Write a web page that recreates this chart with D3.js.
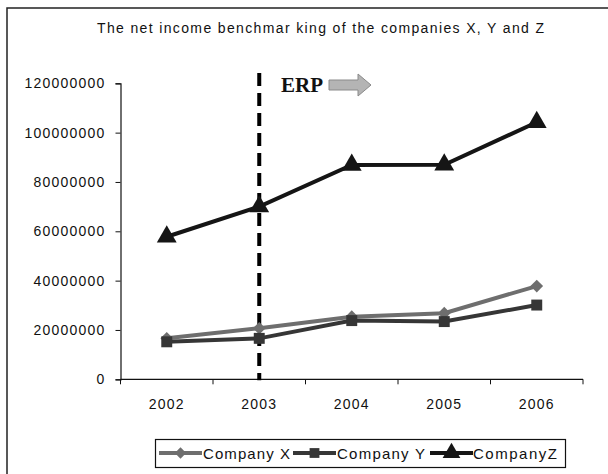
<!DOCTYPE html>
<html><head><meta charset="utf-8">
<script src="https://cdn.jsdelivr.net/npm/d3@7"></script>
<style>body{margin:0;background:#fff}svg{display:block}</style>
</head><body>
<script>
const years = ["2002","2003","2004","2005","2006"];
const seriesNames = ["Company X","Company Y","CompanyZ"];
const companyX = [16600000, 20700000, 25400000, 26800000, 37800000];
const companyY = [15200000, 16600000, 23800000, 23400000, 30100000];
const companyZ = [57800000, 70000000, 86900000, 87000000, 104200000];
const yTicks = [0,20000000,40000000,60000000,80000000,100000000,120000000];
const titleText = "The net income benchmar king of the companies X, Y and Z";
const erpYear = "2003";

const SANS="Liberation Sans, Arial, sans-serif";
const W=608,H=474;
const svg=d3.select("body").append("svg").attr("width",W).attr("height",H).style("font-family",SANS);
svg.append("rect").attr("x",7).attr("y",8).attr("width",620).attr("height",500).attr("fill","none").attr("stroke","#222").attr("stroke-width",1.5);

svg.append("text").attr("x",97).attr("y",33).attr("font-size",14).attr("fill","#111")
  .attr("textLength",447).attr("lengthAdjust","spacing").text(titleText);

const x=d3.scaleBand().domain(years).range([120.5,583]).padding(0);
const y=d3.scaleLinear().domain([0,120000000]).range([379.3,83.3]);

const ya=svg.append("g").attr("transform","translate(120.5,0)")
  .call(d3.axisLeft(y).tickValues(yTicks).tickFormat(d3.format("d")).tickSize(5).tickPadding(10));
ya.select(".domain").attr("stroke","#111").attr("stroke-width",1.2);
ya.selectAll(".tick line").attr("stroke","#111");
ya.selectAll("text").attr("font-size",14).attr("letter-spacing","1.2px").attr("fill","#111").attr("font-family",SANS);

const bounds=years.map(d=>x(d)).concat([x.range()[1]]);
const xg=svg.append("g");
xg.append("line").attr("x1",x.range()[0]).attr("x2",x.range()[1]).attr("y1",y(0)).attr("y2",y(0)).attr("stroke","#111").attr("stroke-width",1.2);
xg.selectAll("line.tk").data(bounds).join("line").attr("class","tk")
  .attr("x1",d=>d).attr("x2",d=>d).attr("y1",y(0)).attr("y2",y(0)+5).attr("stroke","#111");
xg.selectAll("text").data(years).join("text")
  .attr("x",d=>x(d)+x.bandwidth()/2).attr("y",y(0)+30).attr("text-anchor","middle")
  .attr("font-size",14).attr("letter-spacing","1.2px").attr("fill","#111").text(d=>d);

// ERP marker
const ex=x(erpYear)+x.bandwidth()/2;
svg.append("line").attr("x1",ex).attr("x2",ex).attr("y1",73).attr("y2",y(0)+1)
  .attr("stroke","#000").attr("stroke-width",4).attr("stroke-dasharray","13,7");
svg.append("text").attr("x",281).attr("y",92).style("font-family","'Liberation Serif','Times New Roman',serif")
  .attr("font-weight","bold").attr("font-size",21).attr("fill","#111").text("ERP");
svg.append("path").attr("d","M329,80 L358,80 L358,74 L371,85 L358,96 L358,90 L329,90 Z")
  .attr("fill","#b4b4b4").attr("stroke","#8a8a8a").attr("stroke-width",1);

const data=[companyX,companyY,companyZ];
const colors=["#6e6e6e","#363636","#151515"];
const symbols=[d3.symbolSquare,d3.symbolSquare,d3.symbolTriangle];
const rot=[45,0,0];
const sizes=[80,120,170];
const line=d3.line().x((d,i)=>x(years[i])+x.bandwidth()/2).y(d=>y(d));
data.forEach((s,k)=>{
  svg.append("path").datum(s).attr("d",line).attr("fill","none").attr("stroke",colors[k]).attr("stroke-width",4);
  svg.selectAll("path.m"+k).data(s).join("path").attr("class","m"+k)
    .attr("transform",(d,i)=>`translate(${x(years[i])+x.bandwidth()/2},${y(d)}) rotate(${rot[k]})`)
    .attr("d",d3.symbol().type(symbols[k]).size(sizes[k])).attr("fill",colors[k]);
});

// legend
const lg=svg.append("g");
lg.append("rect").attr("x",155.5).attr("y",439.5).attr("width",410).attr("height",28).attr("fill","#fff").attr("stroke","#111").attr("stroke-width",1.2);
const lx=[159,293,430], tx=[203,337,473], tl=[87,88,84];
seriesNames.forEach((n,k)=>{
  lg.append("line").attr("x1",lx[k]).attr("x2",lx[k]+43).attr("y1",453).attr("y2",453).attr("stroke",colors[k]).attr("stroke-width",4);
  lg.append("path").attr("transform",`translate(${lx[k]+21.5},453) rotate(${rot[k]})`).attr("d",d3.symbol().type(symbols[k]).size(sizes[k]*0.8)).attr("fill",colors[k]);
  lg.append("text").attr("x",tx[k]).attr("y",459).attr("font-size",15).attr("fill","#111")
    .attr("textLength",tl[k]).attr("lengthAdjust","spacing").text(n);
});
</script>
</body></html>
